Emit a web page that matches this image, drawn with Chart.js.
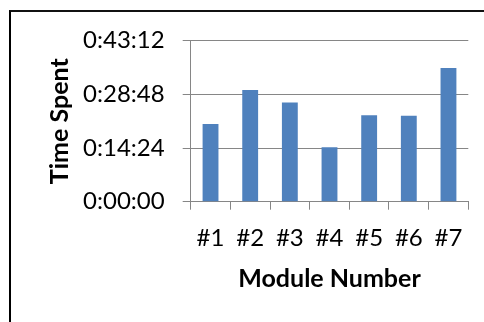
<!DOCTYPE html>
<html>
<head>
<meta charset="utf-8">
<script src="https://cdn.jsdelivr.net/npm/chart.js@4"></script>
<style>
  html, body { margin: 0; padding: 0; background: #fff; }
  #wrap { position: relative; width: 484px; height: 322px; overflow: hidden; }
  #frame {
    position: absolute; left: 9px; top: 10px; width: 600px; height: 400px;
    border-left: 2px solid #000; border-top: 2px solid #111;
  }
  canvas { position: absolute; left: 0; top: 0; }
</style>
</head>
<body>
<div id="wrap">
  <div id="frame"></div>
  <canvas id="myChart" width="484" height="322"></canvas>
</div>
<script>
// module labels + time spent per module (seconds)
const modules = ["#1", "#2", "#3", "#4", "#5", "#6", "#7"];
const timeSpent = [1250, 1797, 1599, 875, 1390, 1383, 2151];
// y ticks every 0:14:24 (864 s) up to 0:43:12
const tickStep = 864;
const tickMax = 2592;

const FONT = "Lato, 'Open Sans', sans-serif";

function fmtTime(sec) {
  const h = Math.floor(sec / 3600);
  const m = Math.floor((sec % 3600) / 60);
  const s = Math.round(sec % 60);
  return h + ":" + String(m).padStart(2, "0") + ":" + String(s).padStart(2, "0");
}

const ctx = document.getElementById("myChart");

const chart = new Chart(ctx, {
  type: "bar",
  data: {
    labels: modules,
    datasets: [
      {
        label: "Time Spent",
        data: timeSpent,
        backgroundColor: "#4f81bd",
        borderWidth: 0,
        barPercentage: 0.4,
        categoryPercentage: 1.0,
      },
    ],
  },
  options: {
    responsive: false,
    animation: false,
    devicePixelRatio: 1,
    layout: { padding: { left: 0, top: 40.7, right: 15.7, bottom: 0 } },
    plugins: {
      legend: { display: false },
      tooltip: { enabled: false },
    },
    scales: {
      x: {
        grid: {
          drawOnChartArea: false,
          drawTicks: true,
          tickLength: 8,
          color: "#868686",
          offset: true,
        },
        border: { color: "#868686", width: 1 },
        ticks: {
          color: "#000",
          padding: 14,
          font: { family: FONT, size: 24 },
        },
        title: {
          display: true,
          text: "Module Number",
          color: "#000",
          font: { family: FONT, size: 25, weight: "bold" },
          padding: { top: 0, bottom: 28 },
        },
        afterFit: (scale) => {
          scale.height = 322 - 201.7;
        },
      },
      y: {
        min: 0,
        max: tickMax,
        grid: {
          color: "#868686",
          tickLength: 8,
          drawTicks: true,
        },
        border: { color: "#868686", width: 1 },
        ticks: {
          stepSize: tickStep,
          color: "#000",
          padding: 18,
          font: { family: FONT, size: 24 },
          callback: (v) => fmtTime(v),
        },
        title: {
          display: true,
          text: "Time Spent",
          color: "#000",
          font: { family: FONT, size: 25, weight: "bold" },
          padding: { top: 45, bottom: 0 },
        },
        afterFit: (scale) => {
          scale.width = 190.7;
        },
      },
    },
  },
});
</script>
</body>
</html>
